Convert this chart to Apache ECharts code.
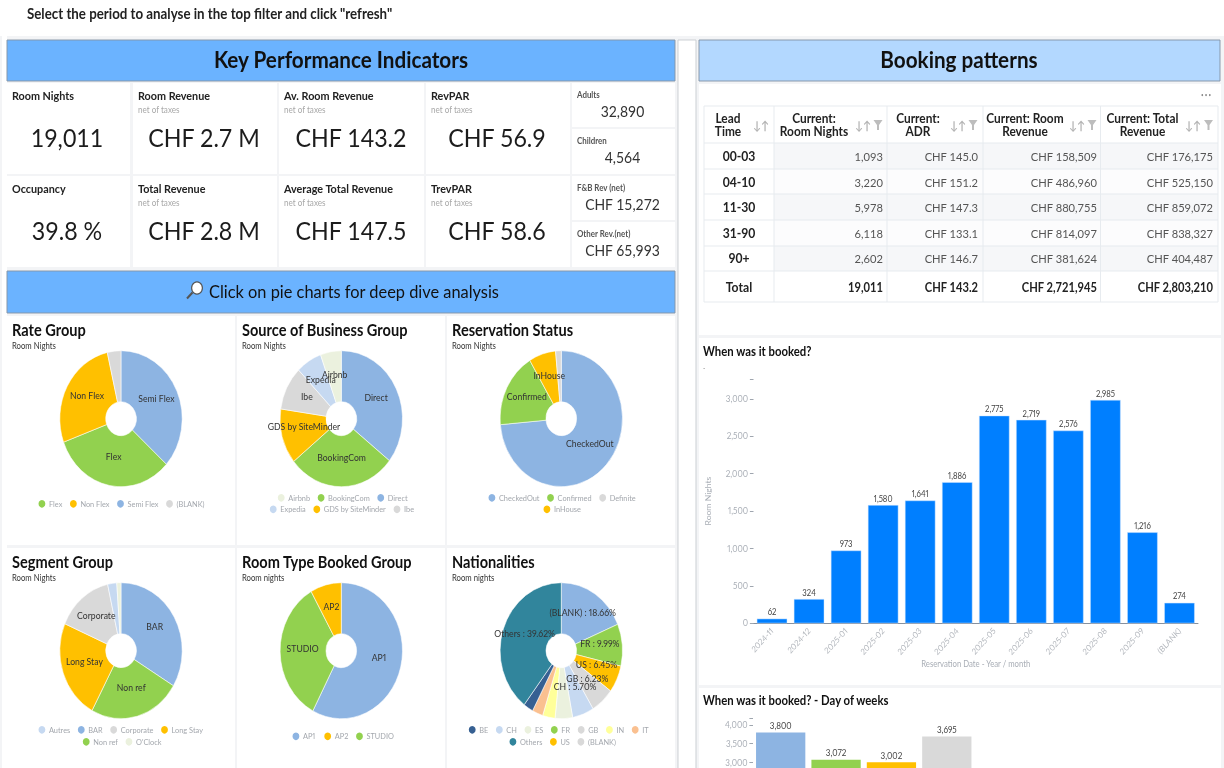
<!DOCTYPE html>
<html><head><meta charset="utf-8">
<style>html,body{margin:0;padding:0;background:#fff;overflow:hidden;width:1224px;height:768px}
#wrap{width:1224px;height:768px;overflow:hidden;position:relative}
#c{width:1360px;height:900px;transform:scaleX(0.9);transform-origin:0 0;position:absolute;left:0;top:0;filter:blur(0.3px)}
#c svg text{font-variant-numeric:proportional-nums;font-feature-settings:"pnum" 1}</style>
<script src="https://cdn.jsdelivr.net/npm/echarts@6/dist/echarts.min.js"></script>
</head><body><div id="wrap"><div id="c"></div></div>
<script>
// ---------- data ----------
const instruction = 'Select the period to analyse in the top filter and click "refresh"';
const kpiTitles = ['Room Nights','Room Revenue','Av. Room Revenue','RevPAR','Occupancy','Total Revenue','Average Total Revenue','TrevPAR'];
const kpiValues = ['19,011','CHF 2.7 M','CHF 143.2','CHF 56.9','39.8 %','CHF 2.8 M','CHF 147.5','CHF 58.6'];
const sideTitles = ['Adults','Children','F&B Rev (net)','Other Rev.(net)'];
const sideValues = ['32,890','4,564','CHF 15,272','CHF 65,993'];

const rateNames = ['Semi Flex','Flex','Non Flex','(BLANK)'];
const rateValues = [36.7,32.7,27.0,3.6];
const sourceNames = ['Direct','BookingCom','GDS by SiteMinder','Ibe','Expedia','Airbnb'];
const sourceValues = [35.6,28.6,13.1,10.4,6.8,5.5];
const statusNames = ['CheckedOut','Confirmed','InHouse','Definite'];
const statusValues = [73.6,17.8,7.1,1.5];
const segmentNames = ['BAR','Non ref','Long Stay','Corporate','Autres',"O'Clock"];
const segmentValues = [33.6,24.2,23.6,15.0,2.4,1.1];
const roomNames = ['AP1','STUDIO','AP2'];
const roomValues = [57.7,34.1,8.2];
const natNames = ['(BLANK)','FR','US','GB','CH','ES','IN','IT','BE','Others'];
const natValues = [18.66,9.99,6.45,6.23,5.70,4.60,3.30,2.85,2.60,39.62];

const tableHeader = [['Lead','Time'],['Current:','Room Nights'],['Current:','ADR'],['Current: Room','Revenue'],['Current: Total','Revenue']];
const leadTimes = ['00-03','04-10','11-30','31-90','90+','Total'];
const roomNights = ['1,093','3,220','5,978','6,118','2,602','19,011'];
const adr = ['CHF 145.0','CHF 151.2','CHF 147.3','CHF 133.1','CHF 146.7','CHF 143.2'];
const roomRevenue = ['CHF 158,509','CHF 486,960','CHF 880,755','CHF 814,097','CHF 381,624','CHF 2,721,945'];
const totalRevenue = ['CHF 176,175','CHF 525,150','CHF 859,072','CHF 838,327','CHF 404,487','CHF 2,803,210'];

const months = ['2024-11','2024-12','2025-01','2025-02','2025-03','2025-04','2025-05','2025-06','2025-07','2025-08','2025-09','(BLANK)'];
const monthNights = [62,324,973,1580,1641,1886,2775,2719,2576,2985,1216,274];
const dayCategories = ['A','B','C','D'];
const dayNights = [3800,3072,3002,3695];

// ---------- palette & helpers ----------
const S = 0.9, X = v => v / S, W = 1360, H = 900;
const FONT = 'Lato, "Noto Sans", sans-serif';
const BLUE='#8DB4E2',GREEN='#92D14F',YEL='#FFC000',GREY='#D9D9D9',LBLUE='#C6D9F1',PALE='#EBF1DE',
      NAVY='#366092',TEAL='#31859C',LYEL='#FFFF99',PEACH='#FAC090';
const g = [];
const rect = (x0,y0,x1,y1,fill,stroke) => g.push({type:'rect',silent:true,shape:{x:X(x0),y:y0,width:X(x1)-X(x0),height:y1-y0},
  style:{fill,stroke:stroke||null,lineWidth:stroke?1:0}});
const text = (x,y,t,size,opt={}) => g.push({type:'text',silent:true,style:{text:t,x:X(x),y,fill:opt.color||'#222',
  font:`${opt.weight||'normal'} ${size}px ${FONT}`,align:opt.align||'left',verticalAlign:'middle',textAlign:opt.align||'left',textVerticalAlign:'middle'}});

// page
rect(0,36,1224,H,'#F3F4F6');
rect(2,36,7,H,'#fff');
text(27,13.5,instruction,14.8,{weight:'bold',color:'#222'});

// KPI band
rect(7,40,675,81,'#6BB3FF','#8696A8');
text(341,59.5,'Key Performance Indicators',23,{weight:'bold',align:'center',color:'#111'});
const colX=[[7,130],[133,277],[279,424],[426,570]], rowY=[[83,174],[176,267]];
const valCX=[67,204,351,497];
kpiTitles.forEach((t,i)=>{
  const c=i%4,r=i<4?0:1,[x0,x1]=colX[c],[y0,y1]=rowY[r];
  rect(x0,y0,x1,y1,'#fff');
  text(x0+5,y0+12.5,t,12,{weight:'bold'});
  if(c>0) text(x0+5,y0+27,'net of taxes',9,{color:'#A8A8A8'});
  text(valCX[c],y0+54.5,kpiValues[i],25.8,{align:'center',color:'#1c1c1c'});
});
const sideY=[[83,127],[129,174],[176,220],[222,267]], sideT=[95,141,188,234], sideV=[111,157,204,250];
sideTitles.forEach((t,i)=>{
  rect(572,sideY[i][0],675,sideY[i][1],'#fff');
  text(577,sideT[i],t,8.8,{color:'#555',weight:'bold'});
  text(622.5,sideV[i],sideValues[i],15.5,{align:'center',color:'#333'});
});

// deep dive band
rect(7,271,675,313,'#6BB3FF','#8696A8');
g.push({type:'circle',silent:true,shape:{cx:X(197),cy:288,r:6},style:{fill:'#fff',stroke:'#555',lineWidth:1.3}});
g.push({type:'line',silent:true,shape:{x1:X(192.5),y1:292.5,x2:X(187),y2:298.5},style:{stroke:'#555',lineWidth:2.4}});
text(354,291.5,'Click on pie charts for deep dive analysis',18.2,{align:'center',color:'#111'});

// pie panels
const panelX=[[7,235],[237,445],[447,675]], panelY=[[316,545],[548,768]];
const panelTitles=[['Rate Group','Room Nights'],['Source of Business Group','Room Nights'],['Reservation Status','Room Nights'],
                   ['Segment Group','Room Nights'],['Room Type Booked Group','Room nights'],['Nationalities','Room nights']];
panelTitles.forEach((p,i)=>{
  const c=i%3,r=i<3?0:1;
  rect(panelX[c][0],panelY[r][0],panelX[c][1],r?H:panelY[r][1],'#fff');
  text(panelX[c][0]+5,panelY[r][0]+14,p[0],16.2,{weight:'bold',color:'#111'});
  text(panelX[c][0]+5,panelY[r][0]+30,p[1],8.6,{color:'#333'});
});

// right column
rect(678,40,696,H,'#fff','#C9CDD2');
rect(699,40,1220,81,'#B3D8FF','#8696A8');
text(959,59.5,'Booking patterns',23,{weight:'bold',align:'center',color:'#111'});
rect(699,84,1221,335,'#fff');
text(1206,95,'• • •',5,{align:'center',color:'#888'});

// table
const colEdges=[704,774,887,983,1100.5,1218], rowEdges=[106,143,169,194,220,246,271,302];
const headCX=[728,814,918,1025,1142.5], rightX=[883,978,1097,1213];
const sortX=[761,863,958,1077,1193], filterX=[null,878,973,1092,1208.5];
const bodyCols=[roomNights,adr,roomRevenue,totalRevenue];
for(let r=0;r<5;r++) rect(774,rowEdges[r+1],1218,rowEdges[r+2],r%2===0?'#F6F7F9':'#FCFCFD');
rowEdges.forEach(y=>g.push({type:'line',silent:true,shape:{x1:X(704),y1:y,x2:X(1218),y2:y},style:{stroke:'#E6EAEE',lineWidth:1}}));
colEdges.forEach(x=>g.push({type:'line',silent:true,shape:{x1:X(x),y1:106,x2:X(x),y2:302},style:{stroke:'#E6EAEE',lineWidth:1}}));
tableHeader.forEach((h,i)=>{
  text(headCX[i],118,h[0],13.2,{weight:'bold',align:'center'});
  text(headCX[i],131,h[1],13.2,{weight:'bold',align:'center'});
  text(sortX[i],125,'↓↑',12,{align:'center',color:'#B5B5B5',weight:'bold'});
  if(filterX[i]) g.push({type:'polygon',silent:true,shape:{points:[[X(filterX[i]-4.5),120],[X(filterX[i]+4.5),120],[X(filterX[i]+1),125],[X(filterX[i]+1),130],[X(filterX[i]-1),130],[X(filterX[i]-1),125]]},style:{fill:'#BDBDBD'}});
});
const rowCY=[156,182,207,233,258,287];
leadTimes.forEach((l,r)=>{
  const tot=r===5;
  text(739,rowCY[r],l,13.5,{weight:'bold',align:'center'});
  bodyCols.forEach((col,c)=>text(rightX[c],rowCY[r],col[r],12.4,{align:'right',color:tot?'#222':'#555',weight:tot?'bold':'normal'}));
});

// bar panels
rect(699,338,1221,685,'#fff');
text(703,351,'When was it booked?',12.6,{weight:'bold',color:'#111'});
text(703,368,'-',7,{color:'#777'});
rect(699,688,1221,H,'#fff');
text(703,700,'When was it booked? - Day of weeks',12.6,{weight:'bold',color:'#111'});

// pies
const colorOf={Direct:BLUE,BookingCom:GREEN,'GDS by SiteMinder':YEL,Ibe:GREY,Expedia:LBLUE,Airbnb:PALE,
  'Semi Flex':BLUE,Flex:GREEN,'Non Flex':YEL,'(BLANK)':GREY,CheckedOut:BLUE,Confirmed:GREEN,InHouse:YEL,Definite:GREY,
  BAR:BLUE,'Non ref':GREEN,'Long Stay':YEL,Corporate:GREY,Autres:LBLUE,"O'Clock":PALE,AP1:BLUE,STUDIO:GREEN,AP2:YEL};
const natColor={'(BLANK)':BLUE,FR:GREEN,US:YEL,GB:GREY,CH:LBLUE,ES:PALE,IN:LYEL,IT:PEACH,BE:NAVY,Others:TEAL};
const pie=(name,names,values,cx,cy,hide,fmt,cols)=>{
  const total=values.reduce((a,b)=>a+b,0); let acc=0;
  return {type:'pie',name,silent:true,animation:false,
  center:[X(cx),cy],radius:[17,68],startAngle:90,clockwise:true,minAngle:0,avoidLabelOverlap:false,
  itemStyle:{borderColor:'#fff',borderWidth:0.6},labelLine:{show:false},emphasis:{disabled:true},
  labelLayout:{hideOverlap:false},
  label:{show:true,position:'inside',color:'#333',fontFamily:FONT,fontSize:9.6,formatter:fmt||'{b}',textBorderWidth:0},
  percentPrecision:2,
  data:names.map((n,i)=>{
    const th=(acc+values[i]/2)/total*2*Math.PI; acc+=values[i];
    return {name:n,value:values[i],itemStyle:{color:(cols||colorOf)[n]||GREY},
      label:{show:!hide.includes(n),offset:[-2.5*Math.sin(th),-3.5*(1-Math.cos(th))]}};
  })};
};
const series=[
  pie('Rate Group',rateNames,rateValues,121,418.7,['(BLANK)']),
  pie('Source of Business Group',sourceNames,sourceValues,341.3,418.7,[]),
  pie('Reservation Status',statusNames,statusValues,561.3,418.7,['Definite']),
  pie('Segment Group',segmentNames,segmentValues,121,650.7,['Autres',"O'Clock"]),
  pie('Room Type Booked Group',roomNames,roomValues,341.3,650.7,[]),
  pie('Nationalities',natNames,natValues,561.3,650.7,['ES','IN','IT','BE'],p=>p.name+' : '+p.percent.toFixed(2)+'%',natColor),
];
const legend=(data,x,cy)=>({data,left:X(x),top:cy-5,icon:'circle',itemWidth:9.6,itemHeight:9.6,itemGap:6.5,padding:0,
  selectedMode:false,textStyle:{color:'#A3A7AD',fontFamily:FONT,fontSize:8.2,padding:[0,0,0,-2]}});
const legends=[
  legend(['Flex','Non Flex','Semi Flex','(BLANK)'],36.7,503),
  legend(['Airbnb','BookingCom','Direct'],276,497),
  legend(['Expedia','GDS by SiteMinder','Ibe'],268,508.5),
  legend(['CheckedOut','Confirmed','Definite'],486.7,497),
  legend(['InHouse'],541.7,508.5),
  legend(['Autres','BAR','Corporate','Long Stay'],36.7,729),
  legend(['Non ref',"O'Clock"],81,741),
  legend(['AP1','AP2','STUDIO'],290.7,735.5),
  legend(['BE','CH','ES','FR','GB','IN','IT'],467,729),
  legend(['Others','US','(BLANK)'],507.7,741),
];

// bars
const axisGrey='#A9AEB6';
const fmtNum=v=>v.toLocaleString('en-US');
series.push({type:'bar',xAxisIndex:0,yAxisIndex:0,data:monthNights,barCategoryGap:'18%',silent:true,animation:false,
  itemStyle:{color:'#007FFF',borderColor:'#CFE6FF',borderWidth:0.5},
  label:{show:true,position:'top',distance:2,color:'#444',fontFamily:FONT,fontSize:8.6,formatter:p=>fmtNum(p.value)}});
series.push({type:'bar',xAxisIndex:1,yAxisIndex:1,silent:true,animation:false,barCategoryGap:'11%',
  data:dayNights.map((v,i)=>({value:v,itemStyle:{color:[BLUE,GREEN,YEL,GREY][i]}})),
  label:{show:true,position:'top',distance:2,color:'#444',fontFamily:FONT,fontSize:9,formatter:p=>fmtNum(p.value)}});

const chart=echarts.init(document.getElementById('c'),null,{renderer:'svg',width:W,height:H});
chart.setOption({
  animation:false,backgroundColor:'#fff',
  graphic:{elements:g},
  legend:legends,
  grid:[
    {left:X(753.5),width:X(1198)-X(753.5),top:379,height:244.3,outerBoundsMode:'none'},
    {left:X(753),width:X(974.5)-X(753),top:718,height:156.6,outerBoundsMode:'none'}
  ],
  xAxis:[
    {type:'category',gridIndex:0,data:months,name:'Reservation Date - Year / month',nameLocation:'middle',nameGap:32,
     nameTextStyle:{color:axisGrey,fontFamily:FONT,fontSize:8.6},
     axisLine:{lineStyle:{color:'#7F8A99',width:1}},axisTick:{alignWithLabel:true,length:4,lineStyle:{color:'#7F8A99'}},
     axisLabel:{rotate:45,color:'#B4B8BE',fontFamily:FONT,fontSize:8.6,margin:6,interval:0}},
    {type:'category',gridIndex:1,data:dayCategories,axisLine:{show:false},axisTick:{show:false},axisLabel:{show:false}}
  ],
  yAxis:[
    {type:'value',gridIndex:0,min:0,max:3265,interval:500,name:'Room Nights',nameLocation:'middle',nameGap:46,
     nameTextStyle:{color:axisGrey,fontFamily:FONT,fontSize:8.6},
     splitLine:{show:false},axisLine:{show:false},axisTick:{show:true,length:4,lineStyle:{color:'#9AA1AB'}},
     axisLabel:{color:axisGrey,fontFamily:FONT,fontSize:9,margin:6,formatter:v=>v%500===0?fmtNum(v):''}},
    {type:'value',gridIndex:1,min:0,max:4187,interval:500,
     splitLine:{show:false},axisLine:{show:false},axisTick:{show:true,length:4,lineStyle:{color:'#9AA1AB'}},
     axisLabel:{color:axisGrey,fontFamily:FONT,fontSize:9,margin:6,formatter:v=>(v%500===0&&v>=3000)?fmtNum(v):''}}
  ],
  series
});
</script></body></html>
